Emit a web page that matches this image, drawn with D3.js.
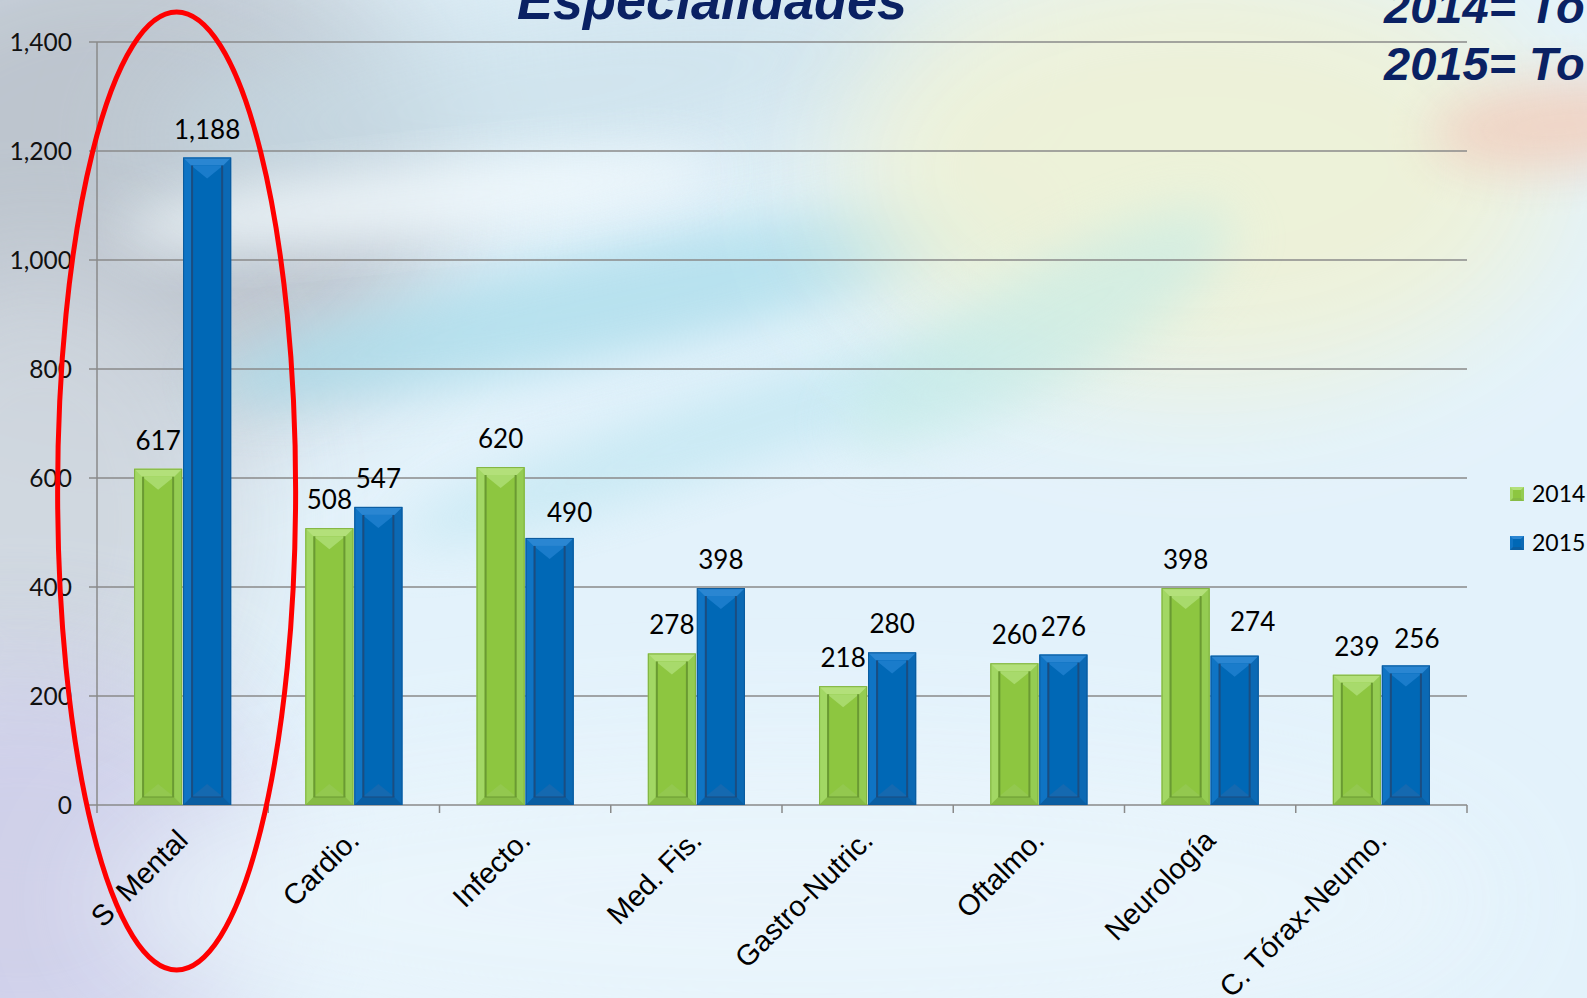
<!DOCTYPE html>
<html>
<head>
<meta charset="utf-8">
<script src="https://cdn.jsdelivr.net/npm/d3@7"></script>
<style>
  html, body { margin: 0; padding: 0; overflow: hidden; background: #e4f2fb; }
  svg { display: block; }
</style>
</head>
<body>
<svg id="chart" width="1587" height="998"></svg>
<script>
// ---- data ----
const categories = ["S. Mental", "Cardio.", "Infecto.", "Med. Fis.", "Gastro-Nutric.", "Oftalmo.", "Neurología", "C. Tórax-Neumo."];
const seriesNames = ["2014", "2015"];
const values2014 = [617, 508, 620, 278, 218, 260, 398, 239];
const values2015 = [1188, 547, 490, 398, 280, 276, 274, 256];
const yTicks = [0, 200, 400, 600, 800, 1000, 1200, 1400];
const titleText = "Especialidades";
const sideTexts = ["2014= To", "2015= To"];

// label nudges (layout only): Excel moved a few 2015 labels to avoid overlaps
const labelNudge2015 = [[0, 0], [0, 0], [20, 3], [0, 0], [0, 0], [0, 0], [18, -6], [11, 2]];

const W = 1587, H = 998;
const svg = d3.select("#chart");

// ---- background ----
const defs = svg.append("defs");
defs.append("filter").attr("id", "blurBig").attr("x", "-50%").attr("y", "-50%").attr("width", "200%").attr("height", "200%")
  .append("feGaussianBlur").attr("stdDeviation", 60);
defs.append("filter").attr("id", "blurMid").attr("x", "-50%").attr("y", "-50%").attr("width", "200%").attr("height", "200%")
  .append("feGaussianBlur").attr("stdDeviation", 25);

const bg = svg.append("g");
bg.append("rect").attr("width", W).attr("height", H).attr("fill", "#e3f2fb");
const blobs = [
  {cx: 120, cy: 180, rx: 330, ry: 260, fill: "#bcc3cc", op: 0.95, rot: 0, f: "blurBig"},
  {cx: 40, cy: 520, rx: 200, ry: 260, fill: "#cfd6de", op: 0.9, rot: 0, f: "blurBig"},
  {cx: 20, cy: 880, rx: 260, ry: 220, fill: "#cfcfe9", op: 0.95, rot: 0, f: "blurBig"},
  {cx: 560, cy: 90, rx: 420, ry: 90, fill: "#c9dfe9", op: 0.8, rot: -8, f: "blurBig"},
  {cx: 620, cy: 300, rx: 420, ry: 55, fill: "#a9dcea", op: 0.75, rot: -12, f: "blurMid"},
  {cx: 760, cy: 420, rx: 380, ry: 40, fill: "#bfe6f1", op: 0.7, rot: -18, f: "blurMid"},
  {cx: 420, cy: 200, rx: 300, ry: 35, fill: "#f4fbfe", op: 0.8, rot: -6, f: "blurMid"},
  {cx: 1200, cy: 170, rx: 360, ry: 220, fill: "#eef2d8", op: 0.95, rot: 0, f: "blurBig"},
  {cx: 1040, cy: 330, rx: 220, ry: 60, fill: "#c5ebe6", op: 0.6, rot: -30, f: "blurMid"},
  {cx: 1560, cy: 125, rx: 130, ry: 45, fill: "#f0d3c4", op: 0.95, rot: -5, f: "blurMid"},
  {cx: 800, cy: 900, rx: 700, ry: 150, fill: "#eaf5fc", op: 0.9, rot: 0, f: "blurBig"}
];
bg.selectAll("ellipse").data(blobs).join("ellipse")
  .attr("cx", d => d.cx).attr("cy", d => d.cy).attr("rx", d => d.rx).attr("ry", d => d.ry)
  .attr("fill", d => d.fill).attr("opacity", d => d.op)
  .attr("transform", d => `rotate(${d.rot},${d.cx},${d.cy})`)
  .attr("filter", d => `url(#${d.f})`);

// ---- scales ----
const x0 = d3.scaleBand().domain(categories).range([97, 1467]).paddingInner(0).paddingOuter(0);
const x1 = d3.scaleBand().domain(seriesNames).range([0, x0.bandwidth()]).paddingInner(0.02).paddingOuter(0.757);
const y = d3.scaleLinear().domain([0, 1400]).range([805, 42]);

// ---- grid + y axis ----
const grid = svg.append("g");
grid.selectAll("line.grid").data(yTicks).join("line")
  .attr("x1", 89).attr("x2", 1467)
  .attr("y1", d => y(d)).attr("y2", d => y(d))
  .attr("stroke", "#8a8a8a").attr("stroke-width", 1.5);
grid.append("line").attr("x1", 97).attr("x2", 97).attr("y1", y(1400)).attr("y2", y(0))
  .attr("stroke", "#8a8a8a").attr("stroke-width", 1.5);
grid.selectAll("text.ytick").data(yTicks).join("text")
  .attr("x", 72).attr("y", d => y(d)).attr("dy", "0.36em")
  .attr("text-anchor", "end")
  .attr("font-family", "Lato, 'Open Sans', sans-serif").attr("font-size", 24.5)
  .attr("fill", "#111")
  .text(d => d3.format(",")(d));

// x axis ticks
const xEdges = categories.map(c => x0(c)).concat([x0.range()[1]]);
grid.selectAll("line.xt").data(xEdges).join("line")
  .attr("x1", d => d).attr("x2", d => d).attr("y1", y(0)).attr("y2", y(0) + 8)
  .attr("stroke", "#8a8a8a").attr("stroke-width", 1.5);

// ---- bars ----
const palettes = {
  "2014": {top: "#b3e07a", left: "#a2d764", right: "#94cc52", bottom: "#86bb45", face: "#8dc640", edge: "#6a9a33", chevTop: "#a8da6c", chevBot: "#93c84f", stroke: "#7fb23e"},
  "2015": {top: "#2a86d2", left: "#0f74c4", right: "#0b69b4", bottom: "#0a5ea2", face: "#0068b6", edge: "#1b4d80", chevTop: "#1a7ccb", chevBot: "#1569b0", stroke: "#0b5a9c"}
};

function drawBar(g, bx, w, yT, yB, p) {
  const b = 8;
  const h = yB - yT;
  const bt = Math.min(8, h / 2);
  const xr = bx + w;
  const xm = bx + w / 2;
  const poly = pts => pts.map(q => q.join(",")).join(" ");
  g.append("rect").attr("x", bx).attr("y", yT).attr("width", w).attr("height", h).attr("fill", p.left);
  g.append("polygon").attr("points", poly([[bx, yT], [bx + b, yT + bt], [bx + b, yB - bt], [bx, yB]])).attr("fill", p.left);
  g.append("polygon").attr("points", poly([[xr, yT], [xr - b, yT + bt], [xr - b, yB - bt], [xr, yB]])).attr("fill", p.right);
  g.append("polygon").attr("points", poly([[bx, yT], [xr, yT], [xr - b, yT + bt], [bx + b, yT + bt]])).attr("fill", p.top);
  g.append("polygon").attr("points", poly([[bx, yB], [xr, yB], [xr - b, yB - bt], [bx + b, yB - bt]])).attr("fill", p.bottom);
  g.append("rect").attr("x", bx + b).attr("y", yT + bt).attr("width", w - 2 * b).attr("height", Math.max(0, h - 2 * bt)).attr("fill", p.face);
  const fh = h - 2 * bt;
  const ch = Math.min(13, fh / 2);
  g.append("polygon").attr("points", poly([[bx + b, yT + bt], [xr - b, yT + bt], [xm, yT + bt + ch]])).attr("fill", p.chevTop);
  g.append("polygon").attr("points", poly([[bx + b, yB - bt], [xr - b, yB - bt], [xm, yB - bt - ch]])).attr("fill", p.chevBot);
  g.append("line").attr("x1", bx + b + 1).attr("x2", bx + b + 1).attr("y1", yT + bt).attr("y2", yB - bt).attr("stroke", p.edge).attr("stroke-width", 2);
  g.append("line").attr("x1", xr - b - 1).attr("x2", xr - b - 1).attr("y1", yT + bt).attr("y2", yB - bt).attr("stroke", p.edge).attr("stroke-width", 2);
  g.append("line").attr("x1", bx + b).attr("x2", xr - b).attr("y1", yB - bt).attr("y2", yB - bt).attr("stroke", p.edge).attr("stroke-width", 1.2);
  g.append("rect").attr("x", bx + 0.5).attr("y", yT + 0.5).attr("width", w - 1).attr("height", h - 1).attr("fill", "none").attr("stroke", p.stroke).attr("stroke-width", 1);
}

const rows = categories.map((c, i) => ({cat: c, vals: [
  {s: "2014", v: values2014[i], n: [0, 0]},
  {s: "2015", v: values2015[i], n: labelNudge2015[i]}
]}));
const barsG = svg.append("g");
rows.forEach(r => {
  r.vals.forEach(d => {
    const g = barsG.append("g");
    drawBar(g, x0(r.cat) + x1(d.s), x1.bandwidth(), y(d.v), y(0), palettes[d.s]);
  });
});

// data labels
const labelsG = svg.append("g");
rows.forEach(r => {
  r.vals.forEach(d => {
    labelsG.append("text")
      .attr("x", x0(r.cat) + x1(d.s) + x1.bandwidth() / 2 + d.n[0])
      .attr("y", y(d.v) - 19 + d.n[1])
      .attr("text-anchor", "middle")
      .attr("font-family", "Lato, 'Open Sans', sans-serif").attr("font-size", 26)
      .attr("fill", "#000")
      .text(d3.format(",")(d.v));
  });
});

// category labels
const catG = svg.append("g");
categories.forEach(c => {
  const px = x0(c) + x0.bandwidth() / 2 + 7;
  const py = 842;
  catG.append("text")
    .attr("x", px).attr("y", py)
    .attr("text-anchor", "end")
    .attr("transform", `rotate(-45,${px},${py})`)
    .attr("font-family", "'Liberation Sans', Arial, sans-serif").attr("font-size", 29)
    .attr("fill", "#000")
    .text(c);
});

// legend
const legG = svg.append("g");
const legendItems = [{s: "2014", y: 487}, {s: "2015", y: 536}];
legendItems.forEach(it => {
  drawLegendSwatch(legG, 1510, it.y, 14, palettes[it.s]);
  legG.append("text").attr("x", 1532).attr("y", it.y + 15)
    .attr("font-family", "Lato, 'Open Sans', sans-serif").attr("font-size", 23)
    .attr("fill", "#000").text(it.s);
});
function drawLegendSwatch(g, sx, sy, s, p) {
  const b = 3;
  const poly = pts => pts.map(q => q.join(",")).join(" ");
  g.append("rect").attr("x", sx).attr("y", sy).attr("width", s).attr("height", s).attr("fill", p.left);
  g.append("polygon").attr("points", poly([[sx, sy], [sx + s, sy], [sx + s - b, sy + b], [sx + b, sy + b]])).attr("fill", p.top);
  g.append("polygon").attr("points", poly([[sx + s, sy], [sx + s, sy + s], [sx + s - b, sy + s - b], [sx + s - b, sy + b]])).attr("fill", p.right);
  g.append("polygon").attr("points", poly([[sx, sy + s], [sx + s, sy + s], [sx + s - b, sy + s - b], [sx + b, sy + s - b]])).attr("fill", p.bottom);
  g.append("rect").attr("x", sx + b).attr("y", sy + b).attr("width", s - 2 * b).attr("height", s - 2 * b).attr("fill", p.face);
}

// title (partially cut at top, as in the reference) and side texts
svg.append("text").attr("x", 712).attr("y", 19).attr("text-anchor", "middle")
  .attr("font-family", "'Liberation Sans', Arial, sans-serif").attr("font-size", 54)
  .attr("font-weight", "bold").attr("font-style", "italic").attr("fill", "#0a2163")
  .text(titleText);
svg.selectAll("text.side").data(sideTexts).join("text")
  .attr("class", "side")
  .attr("x", 1384).attr("y", (d, i) => 23 + i * 57)
  .attr("font-family", "'Liberation Sans', Arial, sans-serif").attr("font-size", 47)
  .attr("font-weight", "bold").attr("font-style", "italic").attr("fill", "#0a2163")
  .text(d => d);

// annotation ellipse around first category
const ecx = x0(categories[0]) + x0.bandwidth() / 2 - 6;
svg.append("ellipse").attr("cx", ecx).attr("cy", 491).attr("rx", 119).attr("ry", 479)
  .attr("fill", "none").attr("stroke", "#ff0000").attr("stroke-width", 5);
</script>
</body>
</html>
